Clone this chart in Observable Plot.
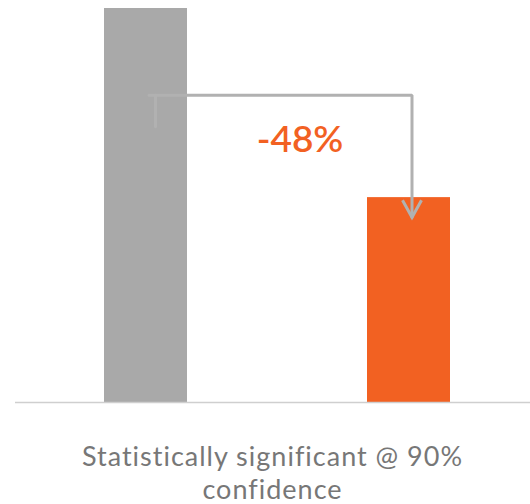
<!DOCTYPE html>
<html>
<head>
<meta charset="utf-8">
<script src="https://cdn.jsdelivr.net/npm/d3@7"></script>
<script src="https://cdn.jsdelivr.net/npm/@observablehq/plot@0.6"></script>
<style>
  body { margin: 0; background: #fff; }
  #chart { width: 530px; }
  .caption {
    font-family: Lato, "Open Sans", sans-serif;
    font-size: 27px;
    letter-spacing: 1px;
    color: #777;
    text-align: center;
    padding-left: 15px;
    padding-top: 30px;
  }
  .caption div { height: 32.5px; line-height: 32.5px; }
</style>
</head>
<body>
<div id="chart"></div>
<script>
// Two groups compared: baseline group vs. exposed group (indexed to 100)
const groups = ["Control", "Exposed"];
const values = [100, 52];
const barColors = ["#a9a9a9", "#f26122"];
const captionLines = ["Statistically significant @ 90%", "confidence"];

const data = groups.map((g, i) => ({group: g, value: values[i]}));
const change = Math.round((values[1] - values[0]) / values[0] * 100);

// Elbow connector from the first bar to the top of the second one
const riser = [
  {group: groups[0], v: 70},
  {group: groups[0], v: 78}
];
const span = [
  {group: groups[0], v: 78},
  {group: groups[1], v: 78},
  {group: groups[1], v: 47}
];

// Open chevron arrowhead, tip at the origin, pointing down
const chevron = {
  draw(context) {
    context.moveTo(-9.5, -17);
    context.lineTo(0, 0);
    context.lineTo(9.5, -17);
  }
};

const connectorStyle = {x: "group", y: "v", stroke: "#b1b1b1", strokeWidth: 3, strokeLinejoin: "miter"};

const step = 263.5;
const chart = Plot.plot({
  width: 530,
  height: 410,
  marginTop: 8,
  marginBottom: 8,
  marginLeft: 15,
  marginRight: 0,
  style: {fontFamily: "Lato, sans-serif", background: "#fff"},
  x: {domain: groups, range: [104 - 0.3 * step, 450 + 0.3 * step], paddingInner: 0.685, paddingOuter: 0.3, axis: null},
  y: {domain: [0, 100], axis: null},
  color: {domain: groups, range: barColors},
  marks: [
    Plot.barY(data, {x: "group", y: "value", fill: "group"}),
    Plot.ruleY([0], {stroke: "#cfcfcf", strokeWidth: 1.5}),
    Plot.line(riser, {...connectorStyle, dx: 9.5}),
    Plot.line(span, {...connectorStyle, dx: 3}),
    Plot.dot([span[2]], {x: "group", y: "v", symbol: chevron, r: 5, fill: "none", stroke: "#b1b1b1", strokeWidth: 3, dx: 3}),
    Plot.text([`${change}%`], {x: () => groups[1], y: () => 66.5, text: d => d, dx: -109, fontSize: 37, fontWeight: 600, fill: "#f26122"})
  ]
});

const root = document.getElementById("chart");
root.appendChild(chart);
const cap = document.createElement("div");
cap.className = "caption";
for (const line of captionLines) {
  const row = document.createElement("div");
  row.textContent = line;
  cap.appendChild(row);
}
root.appendChild(cap);
</script>
</body>
</html>
